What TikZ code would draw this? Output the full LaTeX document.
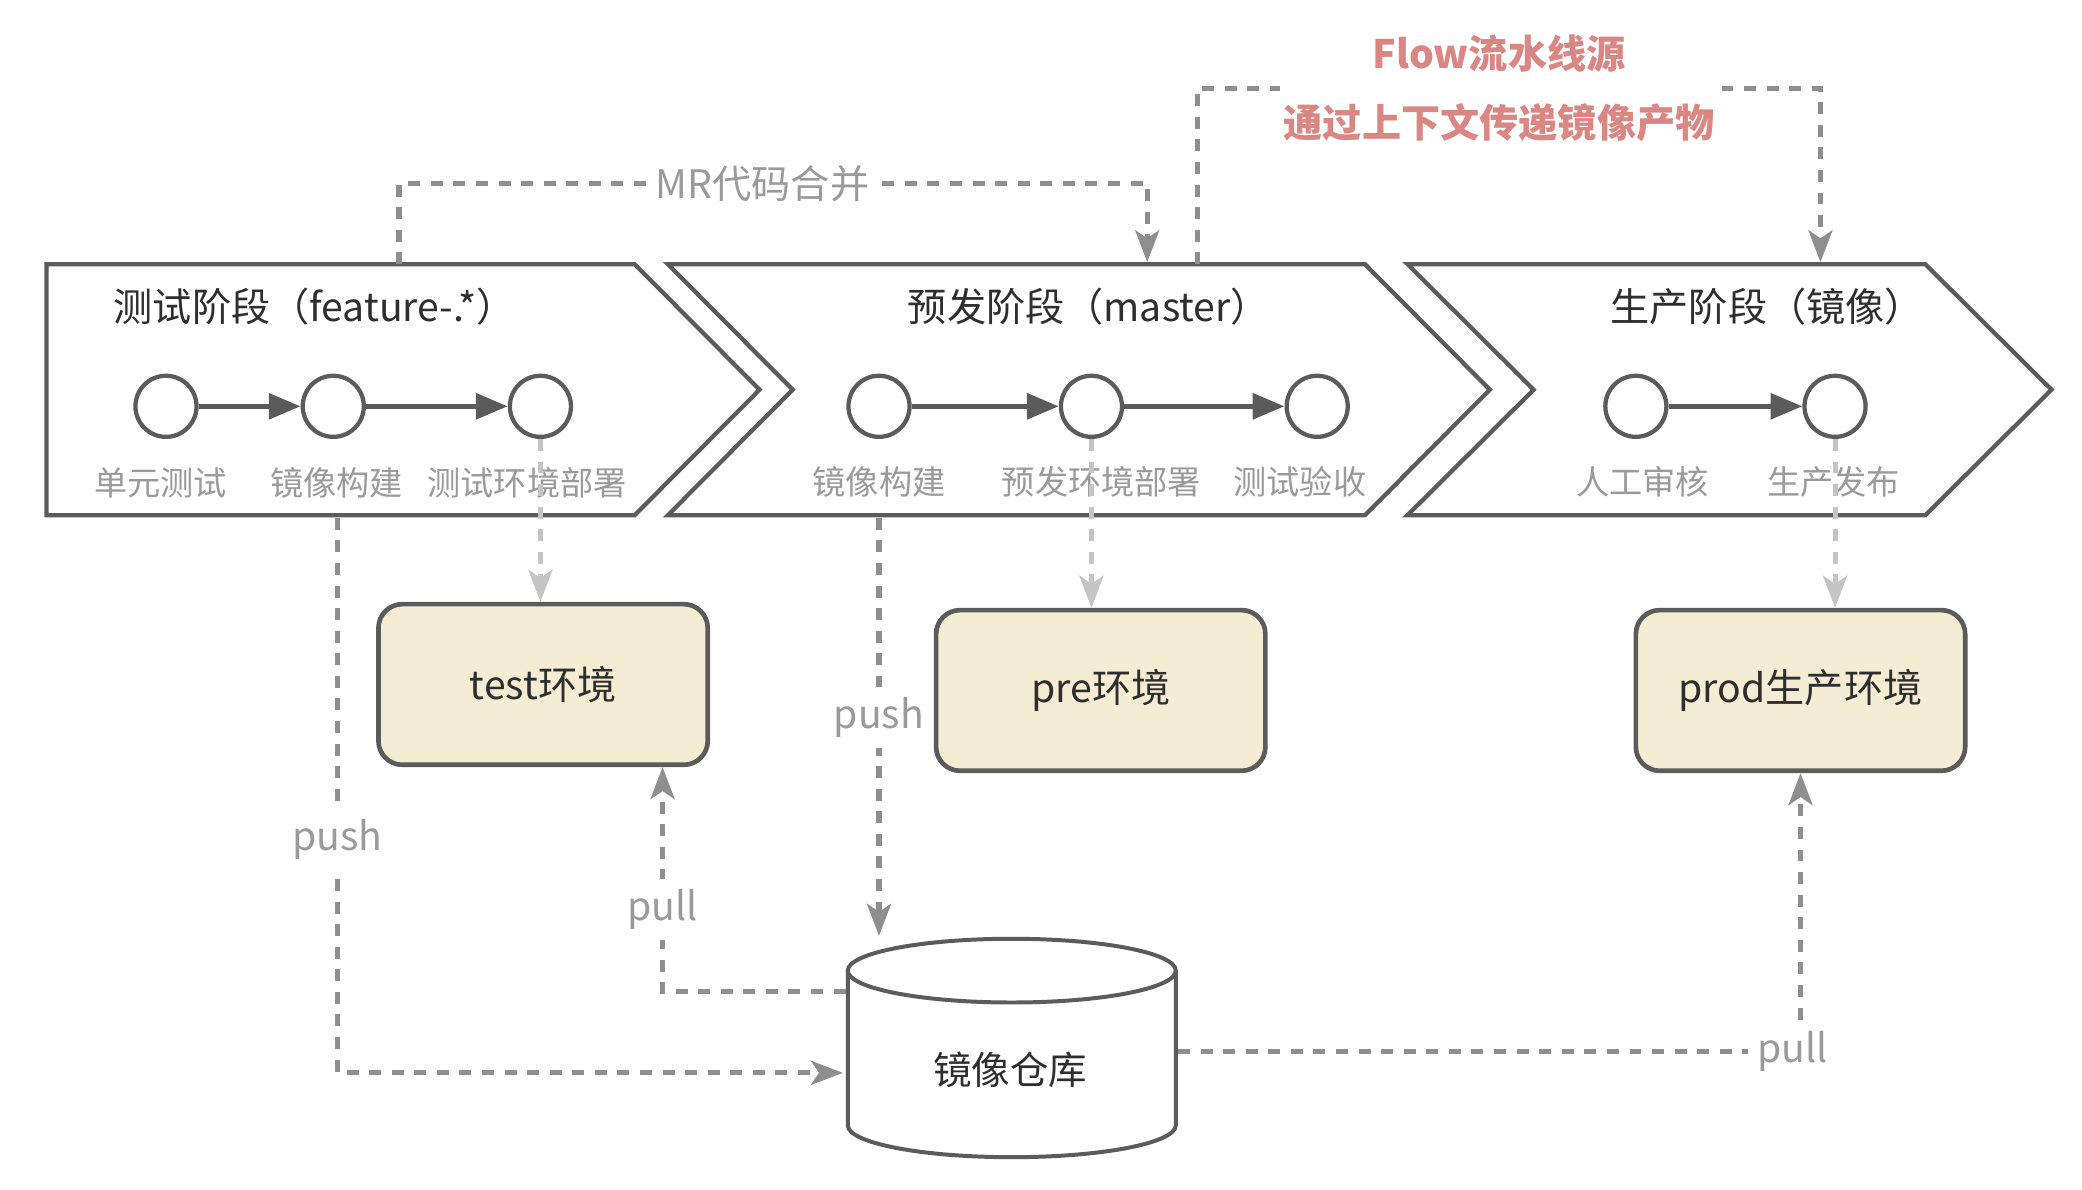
\documentclass[tikz,border=0pt]{standalone}
\usepackage{fontspec}
\newfontfamily\cjk{Noto Sans CJK SC}
\usetikzlibrary{arrows.meta,calc}
\definecolor{stroke}{HTML}{5B5B5B}
\definecolor{dashc}{HTML}{8E8E8E}
\definecolor{lightc}{HTML}{C4C4C4}
\definecolor{labc}{HTML}{9A9A9A}
\definecolor{ink}{HTML}{2E2E2E}
\definecolor{envfill}{HTML}{F5EDD3}
\definecolor{flowc}{HTML}{DA8784}
\begin{document}
\begin{tikzpicture}[x=1pt,y=-1pt,
  stage/.style={draw=stroke,line width=3.2pt,fill=white,line join=miter},
  stepnode/.style={circle,draw=stroke,line width=3.2pt,minimum size=46pt,inner sep=0pt,fill=white},
  steplabel/.style={font=\cjk\fontsize{25}{30}\selectfont,text=labc},
  stagetitle/.style={font=\cjk\fontsize{29.5}{34}\selectfont,text=ink},
  flowarrow/.style={draw=stroke,line width=4pt,-{Triangle[length=24pt,width=19pt]}},
  env/.style={rectangle,rounded corners=18pt,draw=stroke,line width=3.5pt,fill=envfill,minimum width=248pt,minimum height=121pt,font=\cjk\fontsize{29.5}{34}\selectfont,text=ink},
  conn/.style={draw=dashc,line width=3.8pt,dash pattern=on 9pt off 8pt,-{Stealth[length=24pt,width=18pt,inset=6pt]}},
  lightconn/.style={conn,draw=lightc},
  connlabel/.style={fill=white,inner xsep=7pt,inner ysep=8pt,font=\cjk\fontsize{29.5}{34}\selectfont,text=labc},
  flowlabel/.style={fill=white,align=center,inner xsep=3pt,inner ysep=4pt,text=flowc,font=\cjk\bfseries\fontsize{29.5}{51.6}\selectfont},
  cyllabel/.style={font=\cjk\fontsize{29}{34}\selectfont,text=ink},
  cylstyle/.style={draw=stroke,line width=3pt,fill=white}
]
\useasboundingbox[fill=white] (0,0) rectangle (1568,896);

% stage chevrons
\draw[stage] (35,199) -- (478,199) -- (572,293.5) -- (478,388) -- (35,388) -- cycle;
\draw[stage] (503,199) -- (1028,199) -- (1122,293.5) -- (1028,388) -- (503,388) -- (597,293.5) -- cycle;
\draw[stage] (1060,199) -- (1450,199) -- (1545,293.5) -- (1450,388) -- (1060,388) -- (1155,293.5) -- cycle;

\coordinate (mrs) at (300.5,199);
\coordinate (mre) at (864,197.5);
\coordinate (fls) at (902,199);
\coordinate (fle) at (1371,197.5);
\coordinate (p1s) at (254,390);
\coordinate (p2s) at (662,390);

% titles
\node[stagetitle] (t1) at (237,231) {测试阶段（feature-.*）};
\node[stagetitle] (t2) at (820,231) {预发阶段（master）};
\node[stagetitle] (t3) at (1331,231) {生产阶段（镜像）};

% steps
\node[stepnode] (c11) at (125,306) {};
\node[stepnode] (c12) at (251,306) {};
\node[stepnode] (c13) at (407,306) {};
\node[stepnode] (c21) at (662,306) {};
\node[stepnode] (c22) at (822,306) {};
\node[stepnode] (c23) at (992,306) {};
\node[stepnode] (c31) at (1232,306) {};
\node[stepnode] (c32) at (1382,306) {};
\draw[flowarrow] (c11) -- (c12);
\draw[flowarrow] (c12) -- (c13);
\draw[flowarrow] (c21) -- (c22);
\draw[flowarrow] (c22) -- (c23);
\draw[flowarrow] (c31) -- (c32);

\node[steplabel] (l11) at (121,364) {单元测试};
\node[steplabel] (l12) at (253.5,364) {镜像构建};
\node[steplabel] (l13) at (397,364) {测试环境部署};
\node[steplabel] (l21) at (662,363) {镜像构建};
\node[steplabel] (l22) at (829.5,363) {预发环境部署};
\node[steplabel] (l23) at (979,363) {测试验收};
\node[steplabel] (l31) at (1237,363) {人工审核};
\node[steplabel] (l32) at (1381,363) {生产发布};

% environments
\node[env] (test) at (409,515.5) {test环境};
\node[env] (pre) at (829,520) {pre环境};
\node[env] (prod) at (1356,520) {prod生产环境};

% image repository cylinder
\node[minimum width=250pt,minimum height=168pt,inner sep=0pt] (cyl) at (762,789) {};
\draw[cylstyle] (638.5,731) -- (638.5,847.5) arc[start angle=180,end angle=0,x radius=123.5,y radius=24] -- (885.5,731);
\draw[cylstyle] (762,731) ellipse[x radius=123.5,y radius=24];
\node[cyllabel] (cyltext) at (761,806) {镜像仓库};

% connectors
\draw[conn] (mrs) -- ++(0,-61) -| node[connlabel,pos=0.243] {MR代码合并} (mre);
\draw[conn] (fls) -- ++(0,-132.5) -| node[flowlabel,pos=0.242] {Flow流水线源\\通过上下文传递镜像产物} (fle);
\draw[conn] (p1s) |- node[connlabel,pos=0.29] {push} ($(cyl.west)+(-2,19)$);
\draw[conn] ($(cyl.west)+(0,-42)$) -| node[connlabel,pos=0.683] {pull} ($(test.south)+(90,0)$);
\draw[conn] (p2s) -- node[connlabel,pos=0.478] {push} (cyl.north -| p2s);
\draw[conn] ($(cyl.east)+(0,3)$) -| node[connlabel,pos=0.5,xshift=-6pt] {pull} (prod.south);

\draw[lightconn] (c13.south) -- (test.north -| c13.south);
\draw[lightconn] (c22.south) -- (pre.north -| c22.south);
\draw[lightconn] (c32.south) -- (prod.north -| c32.south);
\end{tikzpicture}
\end{document}
